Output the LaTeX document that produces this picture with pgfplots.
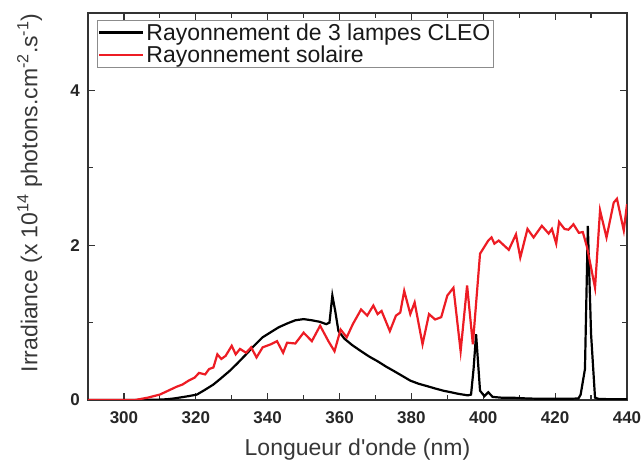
\documentclass[border=0pt]{standalone}
\usepackage{pgfplots}
\pgfplotsset{compat=1.18}
\usepackage{fontspec}
\setmainfont{Liberation Sans}
\definecolor{solred}{RGB}{237,28,36}
\definecolor{txtgray}{RGB}{55,55,55}
\begin{document}
\begin{tikzpicture}
\begin{axis}[
  scale only axis,
  width=539pt, height=387pt,
  xmin=290, xmax=440, ymin=0, ymax=5,
  xtick={300,320,...,440}, minor x tick num=1,
  ytick={0,2,4}, minor y tick num=1,
  tick align=inside,
  major tick length=7pt, minor tick length=5pt,
  axis line style={line width=1.2pt, black!80},
  every tick/.style={line width=1.2pt, black!80},
  /pgf/number format/assume math mode=true,
  ticklabel style={font=\fontsize{17}{20}\selectfont\bfseries, text=black!85, inner sep=0pt},
  xticklabel style={anchor=base, yshift=-24pt},
  yticklabel style={anchor=east, xshift=-8pt},
  xlabel={Longueur d\textquotesingle onde (nm)},
  ylabel={Irradiance (x 10\textsuperscript{14} photons.cm\textsuperscript{-2}.s\textsuperscript{-1})},
  label style={font=\fontsize{23}{26}\selectfont, text=txtgray, inner sep=0pt},
  xlabel style={at={(axis description cs:0.5,0)}, anchor=base, yshift=-56pt},
  ylabel style={at={(axis description cs:0,0.535)}, anchor=north, yshift=71pt},
  legend style={at={(0.0167,0.982)}, anchor=north west,
    draw=black!45, line width=0.6pt,
    font=\fontsize{23}{26}\selectfont, text=black!90,
    inner xsep=1pt, inner ysep=1pt, row sep=0pt,
    cells={anchor=west, text height=17pt, text depth=5pt, inner ysep=2pt, inner xsep=3pt}},
  legend image code/.code={\draw[#1, line width=2.2pt] (0pt,0pt) -- (44pt,0pt);},
]
\addplot[black, line width=2.2pt] coordinates {
(290,0) (300,0) (305,0) (310,0.005) (312,0.01) (314,0.02) (316,0.035) (318,0.05)
(320.3,0.07) (322.5,0.13) (324.9,0.2) (327,0.28) (329.4,0.375) (331.5,0.47) (334,0.59)
(336.2,0.70) (338.6,0.81) (341,0.88) (343.1,0.94) (345.5,0.99) (347.7,1.03) (350,1.045)
(352.3,1.03) (354.5,1.01) (356.3,0.98) (357.2,1.0) (358,1.35) (358.8,1.15) (359.7,0.89)
(361.4,0.79) (363.5,0.71) (366,0.63) (368.3,0.56) (370.6,0.50) (373,0.43) (375.1,0.375)
(377.5,0.31) (379.7,0.25) (382,0.21) (384.3,0.18) (386.5,0.15) (388.9,0.12) (391,0.10)
(393,0.08) (395.7,0.06) (396.6,0.07) (397.3,0.4) (398,0.85) (398.6,0.45) (399.1,0.12)
(400.3,0.05) (401.4,0.1) (402.6,0.04) (405,0.03) (408,0.03) (412,0.02) (416,0.015)
(420,0.015) (424,0.015) (426.5,0.02) (427.1,0.07) (428.3,0.4) (429.1,2.25) (430,0.85)
(431.1,0.03) (432,0.015) (435,0.01) (438,0.01) (440,0.01)
};
\addlegendentry{Rayonnement de 3 lampes CLEO}
\addplot[solred, line width=2.2pt] coordinates {
(290,0) (295,0) (300,0) (303.1,0) (306.6,0.03) (310,0.07) (312.3,0.12) (314.6,0.17)
(316.3,0.2) (318,0.25) (319.7,0.29) (320.9,0.35) (322.6,0.33) (323.7,0.40) (324.9,0.42)
(326,0.59) (327.1,0.53) (328.3,0.57) (330,0.70) (331.1,0.59) (332.3,0.66) (334,0.61)
(335.4,0.68) (336.9,0.55) (338.6,0.68) (340.9,0.72) (342.6,0.76) (344.3,0.61) (345.4,0.74)
(347.7,0.73) (350,0.87) (352.3,0.76) (354.6,0.96) (356.9,0.76) (358.6,0.63) (360.3,0.91)
(362,0.81) (363.7,0.98) (366,1.17) (367.7,1.09) (369.4,1.22) (370.6,1.11) (371.7,1.15)
(374,0.89) (375.7,1.09) (376.9,1.13) (378,1.41) (379.7,1.11) (380.9,1.26) (383.1,0.72)
(384.9,1.11) (386.6,1.04) (388.3,1.07) (390,1.35) (391.7,1.45) (393.7,0.63) (395.5,1.48)
(397.1,0.72) (399.1,1.89) (401.4,2.06) (402.3,2.10) (403.1,2.02) (404.3,2.06) (407.1,1.94)
(409.1,2.14) (410.3,1.84) (412.3,2.21) (414,2.10) (416.3,2.25) (418.2,2.15) (419.1,2.21)
(420.3,2.02) (421.1,2.30) (422.6,2.21) (423.7,2.20) (425.1,2.27) (426.6,2.16) (427.7,2.17)
(428.9,1.97) (431.1,1.45) (432.5,2.45) (434.3,2.10) (436.3,2.55) (437.2,2.60) (439.1,2.19)
(440,2.53)
};
\addlegendentry{Rayonnement solaire}
\end{axis}
\path (current axis.south west) ++(-88pt,-63pt);
\path (current axis.north east) ++(15pt,13pt);
\end{tikzpicture}
\end{document}
